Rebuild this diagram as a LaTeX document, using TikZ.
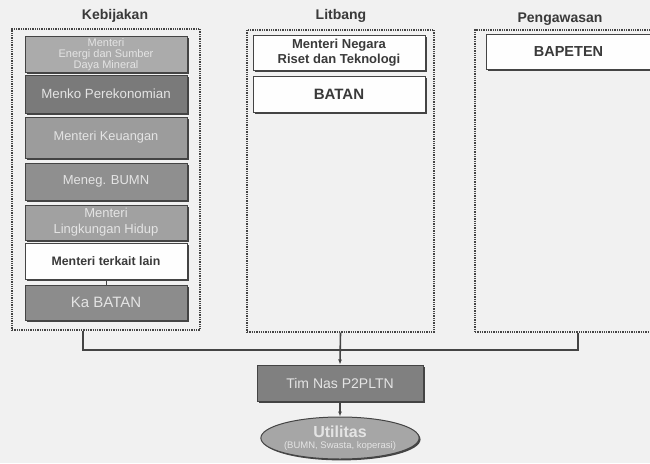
\documentclass[tikz,border=0pt]{standalone}
\usepackage{fontspec}
\setmainfont{Liberation Sans}
\usetikzlibrary{shapes.geometric,arrows.meta,shadows}
\definecolor{bg}{HTML}{F1F1F1}
\definecolor{dk}{HTML}{444444}
\definecolor{lt}{HTML}{E4E4E4}
\definecolor{txt}{HTML}{3A3A3A}
\tikzset{
  container/.style={draw=dk, line width=1.3pt, dash pattern=on 1.3pt off 1pt, inner sep=0pt},
  boxbase/.style={draw=dk, line width=1pt, minimum width=162pt, align=center, inner sep=0pt,
    drop shadow={shadow xshift=1.6pt, shadow yshift=-1.6pt, fill=dk, opacity=1}},
  graybox/.style={boxbase, text=lt, font=\fontsize{12.5}{14}\selectfont},
  whitebox/.style={boxbase, fill=white!96!bg, text=txt, font=\bfseries\fontsize{12.3}{14}\selectfont},
  title/.style={text=txt, font=\bfseries\fontsize{14}{16}\selectfont},
  conn/.style={draw=dk, line width=1.6pt},
  tip/.style={-{Latex[length=5pt,width=4pt]}}
}
\begin{document}
\begin{tikzpicture}[x=1pt,y=-1pt]
\clip (0,0) rectangle (650,463);
\fill[bg] (0,0) rectangle (650,463);

% titles
\node[title] (tk) at (115,16) {Kebijakan};
\node[title] (tl) at (341,16) {Litbang};
\node[title] (tp) at (560,19) {Pengawasan};

% containers
\node[container, minimum width=188pt, minimum height=301pt] (keb) at (106,179.5) {};
\node[container, minimum width=187pt, minimum height=302pt] (lit) at (340.5,181) {};
\node[container, minimum width=185pt, minimum height=302pt] (peng) at (567.5,181) {};

% Kebijakan boxes
\node[graybox, fill=black!33, minimum height=36pt, font=\fontsize{11}{10.8}\selectfont] (k1) at (106,54.5) {Menteri\\Energi dan Sumber\\Daya Mineral};
\node[graybox, fill=black!52, minimum height=38pt, font=\fontsize{13.3}{15}\selectfont] (k2) at (106,94) {Menko Perekonomian};
\node[graybox, fill=black!39, minimum height=41pt, font=\fontsize{12.8}{15}\selectfont] (k3) at (106,137.5) {Menteri Keuangan};
\node[graybox, fill=black!44, minimum height=37pt, font=\fontsize{13}{15}\selectfont] (k4) at (106,181.5) {Meneg. BUMN};
\node[graybox, fill=black!37, minimum height=35pt, font=\fontsize{13}{16}\selectfont] (k5) at (106,222.5) {Menteri\\Lingkungan Hidup};
\node[whitebox, minimum height=36pt] (k6) at (106,261) {Menteri terkait lain};
\node[graybox, fill=black!45, minimum height=35pt, font=\fontsize{15}{17}\selectfont] (k7) at (106,302.5) {Ka BATAN};
\draw[conn, line width=1pt] (k6.south) -- (k7.north);

% Litbang boxes
\node[whitebox, minimum width=172pt, minimum height=35pt, font=\bfseries\fontsize{13}{15}\selectfont] (l1) at (339,52.5) {Menteri Negara\\Riset dan Teknologi};
\node[whitebox, minimum width=172pt, minimum height=36pt, font=\bfseries\fontsize{15}{17}\selectfont] (l2) at (339,94) {BATAN};

% Pengawasan box
\node[whitebox, minimum width=165pt, minimum height=35pt, font=\bfseries\fontsize{14.5}{16}\selectfont] (p1) at (568.5,51.5) {BAPETEN};

% bottom
\node[graybox, fill=black!50, minimum width=166pt, minimum height=36pt, font=\fontsize{14}{16}\selectfont] (tim) at (340,383) {Tim Nas P2PLTN};
\node[ellipse, draw=dk, line width=1pt, fill=black!35, minimum width=150pt, minimum height=42pt, inner sep=0pt, align=center, text=lt,
  drop shadow={shadow xshift=1.4pt, shadow yshift=-1.4pt, fill=dk, opacity=1}] (ut) at (340,438)
  {{\bfseries\fontsize{16}{16}\selectfont Utilitas}\\[-1pt]{\fontsize{9.5}{10}\selectfont (BUMN, Swasta, koperasi)}};

% connectors
\coordinate (j1) at (83,350);
\coordinate (j3) at (578,350);
\draw[conn] (keb.south -| j1) -- (j1) -- (j3) -- (peng.south -| j3);
\draw[conn, tip] (lit.south) -- (tim.north);
\draw[conn, tip] (tim.south) -- (ut.north);
\end{tikzpicture}
\end{document}
